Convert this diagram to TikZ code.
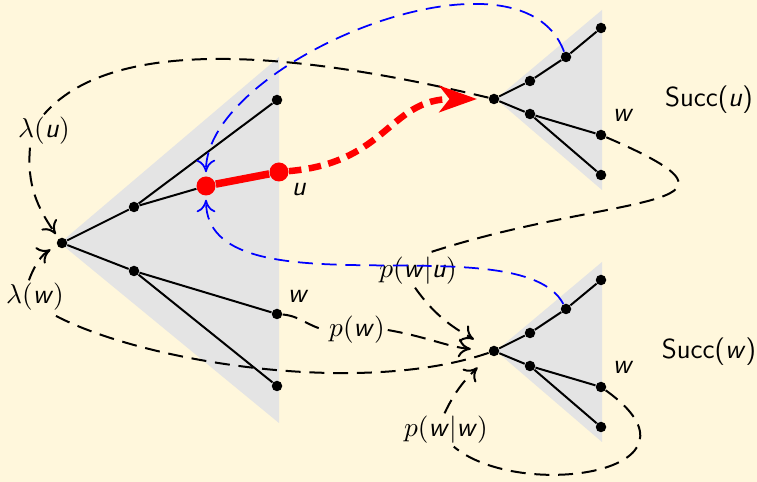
\documentclass[tikz,border=0pt]{standalone}
\usepackage{amsmath}
\usepackage{tikz}
\usetikzlibrary{arrows.meta}
\definecolor{bgc}{HTML}{FFF7DC}
\definecolor{tri}{HTML}{E4E4E4}
\newcommand{\sv}[1]{\textsf{\itshape #1}}

\begin{document}
\begin{tikzpicture}[x=4pt,y=4pt,font=\fontsize{11}{13}\selectfont,
  dot/.style={circle,fill=black,inner sep=0pt,minimum size=4.2pt},
  rdot/.style={circle,fill=red,inner sep=0pt,minimum size=7.6pt},
  edge/.style={line width=0.8pt},
  jump/.style={dash pattern=on 6pt off 3.5pt,line width=0.8pt},
  back/.style={blue,dash pattern=on 6pt off 3.5pt,line width=0.7pt},
  tip/.style={-{To[length=5pt,width=7.5pt]}},
  lbl/.style={inner sep=1pt}]
\fill[bgc] (0,0) rectangle (75.7,48.2);
\useasboundingbox (0,0) rectangle (75.7,48.2);

% big tree
\fill[tri] (6.0,23.9) -- (27.9,42.5) -- (27.9,5.9) -- cycle;
\node[dot] (b0) at (6.2,23.9) {};
\node[dot] (b1) at (13.4,27.5) {};
\node[dot] (b2) at (13.4,21.1) {};
\node[dot] (b3) at (27.7,38.2) {};
\node[dot] (bw) at (27.7,16.8) {};
\node[dot] (b4) at (27.7,9.6) {};
\node[rdot] (bx) at (20.6,29.6) {};
\node[rdot] (bu) at (27.9,31.0) {};
\draw[edge] (b0) -- (b1) -- (b3);
\draw[edge] (b1) -- (bx);
\draw[edge] (b0) -- (b2) -- (bw);
\draw[edge] (b2) -- (b4);
\draw[red,line width=3pt] (bx) -- (bu);
\node[lbl] at (29.9,29.2) {\sv{u}};
\node[lbl] at (29.8,18.6) {\sv{w}};

% successor trees
\foreach \t/\dy in {u/0,w/-25.2}{
\begin{scope}[shift={(0,\dy)}]
\fill[tri] (49.6,38.3) -- (60.2,47.2) -- (60.2,29.2) -- cycle;
\node[dot] (s\t0) at (49.4,38.3) {};
\node[dot] (s\t1) at (53.0,40.1) {};
\node[dot] (s\t2) at (53.0,36.8) {};
\node[dot] (s\t3) at (56.6,42.5) {};
\node[dot] (s\t4) at (60.1,45.4) {};
\node[dot] (s\t5) at (60.1,34.7) {};
\node[dot] (s\t6) at (60.1,30.7) {};
\draw[edge] (s\t0) -- (s\t1) -- (s\t3) -- (s\t4);
\draw[edge] (s\t0) -- (s\t2) -- (s\t5);
\draw[edge] (s\t2) -- (s\t6);
\node[lbl] at (62.3,36.7) {\sv{w}};
\node[lbl] at (70.9,38.2) {\textsf{Succ(\sv{\t})}};
\end{scope}}

% labels on the jumps
\node[lbl] (lamu) at (4.4,35.1) {$\lambda(\text{\sv{u}})$};
\node[lbl] (lamw) at (3.5,18.5) {$\lambda(\text{\sv{w}})$};
\node[lbl] (pw) at (35.7,15.2) {$p(\text{\sv{w}})$};
\node[lbl] (pwu) at (41.8,21.1) {$p(\text{\sv{w}}|\text{\sv{u}})$};
\node[lbl] (pww) at (44.6,5.2) {$p(\text{\sv{w}}|\text{\sv{w}})$};

% black jumps
\draw[jump] (su0) .. controls (33,42.2) and (12,45.5) .. (lamu.north);
\draw[jump,tip,shorten >=2pt] (lamu.-130) to[out=-95,in=125] (b0);
\draw[jump] (sw0) .. controls (36,8.5) and (14,12) .. (lamw.-45);
\draw[jump,tip,shorten >=3pt] (lamw.110) to[out=70,in=210] (b0);
\draw[jump] (bw) to[out=-5,in=170] (pw.west);
\draw[jump,tip,shorten >=7pt] (pw.east) to[out=-10,in=175] (sw0);
\draw[jump] (su5) .. controls (78,27) and (61,29) .. (pwu.70);
\draw[jump,tip,shorten >=7pt] (pwu.-100) to[out=-55,in=150] (sw0);
\draw[jump] (sw5) .. controls (72,1) and (52,-2) .. (pww.-65);
\draw[jump,tip,shorten >=7pt] (pww.95) to[out=65,in=225] (sw0);

% blue jumps back to the red node
\draw[back,tip,shorten >=1.5pt] (su3) .. controls (52,55) and (20.5,42) .. (bx.north);
\draw[back,tip,shorten >=1.5pt] (sw3) .. controls (52,26) and (20.6,16.5) .. (bx.south);

% red move
\draw[red,line width=2.6pt,dash pattern=on 5pt off 3pt,
  -{Stealth[length=15pt,width=10.5pt,inset=4pt]},shorten >=4.5pt]
  (bu) to[out=5,in=180,looseness=1.2] (su0);
\end{tikzpicture}
\end{document}
